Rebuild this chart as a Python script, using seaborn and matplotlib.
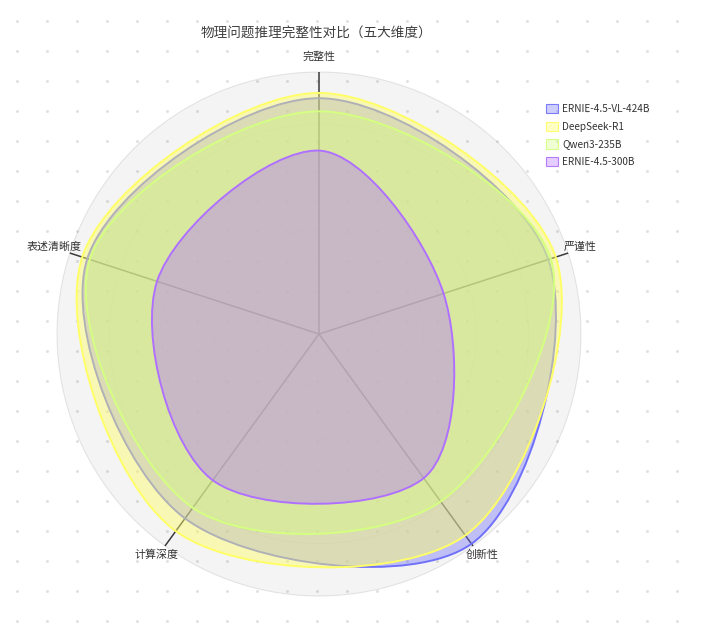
import numpy as np
import matplotlib
matplotlib.use('Agg')
import matplotlib.pyplot as plt
from matplotlib.path import Path
from matplotlib.patches import PathPatch, Circle, Patch
import seaborn as sns

# ---------------- data ----------------
title = '物理问题推理完整性对比（五大维度）'
dimensions = ['完整性', '严谨性', '创新性', '计算深度', '表述清晰度']
models = ['ERNIE-4.5-VL-424B', 'DeepSeek-R1', 'Qwen3-235B', 'ERNIE-4.5-300B']
ernie_vl_scores = [90, 92, 99, 87, 93]
deepseek_scores = [92, 95, 95, 93, 95]
qwen_scores = [85, 93, 79, 82, 92]
ernie_300b_scores = [70, 50, 68, 69, 65]
max_score = 100

series = [ernie_vl_scores, deepseek_scores, qwen_scores, ernie_300b_scores]
line_colors = ['#7070fa', '#ffff66', '#d4ff80', '#b070ff']
fill_alpha = [0.40, 0.45, 0.40, 0.40]
tension = 0.33

# ---------------- style ----------------
sns.set_theme(style='white')
plt.rcParams['font.family'] = ['Noto Sans CJK SC', 'DejaVu Sans']
palette = sns.color_palette(line_colors)

W, H, DPI = 701, 639, 100
CX, CY, R = 319, 334, 262  # pixel centre and radius


def px(x, y):
    return (x - CX) / R, (CY - y) / R


fig = plt.figure(figsize=(W / DPI, H / DPI), dpi=DPI)
ax = fig.add_axes([0, 0, 1, 1])
ax.set_xlim(-CX / R, (W - CX) / R)
ax.set_ylim(-(H - CY) / R, CY / R)
ax.axis('off')
fig.patch.set_facecolor('white')

# dotted page background
gx = np.arange(17, W, 30)
gy = np.arange(21, H, 30)
GX, GY = np.meshgrid(gx, gy)
dx, dy = px(GX.ravel(), GY.ravel())
ax.scatter(dx, dy, s=4.5, color='#e0e0e0', linewidths=0, zorder=0)

# radar background
ax.add_patch(Circle((0, 0), 1.0, facecolor=(0, 0, 0, 0.045), edgecolor='none', zorder=1))
for k in range(1, 6):
    ax.add_patch(Circle((0, 0), k / 5, facecolor='none',
                        edgecolor=(0, 0, 0, 0.05 if k < 5 else 0.09), lw=0.8, zorder=1.2))

n = len(dimensions)
angles = np.deg2rad(90 - 360 / n * np.arange(n))
dirs = np.column_stack([np.cos(angles), np.sin(angles)])

for d in dirs:
    ax.plot([0, d[0]], [0, d[1]], color='#3a3a3a', lw=1.1, zorder=1.5, solid_capstyle='butt')


def smooth_path(pts, t):
    m = len(pts)
    cin, cout = [], []
    for i in range(m):
        p, prv, nxt = pts[i], pts[i - 1], pts[(i + 1) % m]
        vec = nxt - prv
        d0 = np.linalg.norm(p - prv)
        d1 = np.linalg.norm(nxt - p)
        s = d0 + d1
        cin.append(p - vec * t * d0 / s)
        cout.append(p + vec * t * d1 / s)
    verts = [pts[0]]
    codes = [Path.MOVETO]
    for i in range(m):
        j = (i + 1) % m
        verts += [cout[i], cin[j], pts[j]]
        codes += [Path.CURVE4] * 3
    verts.append(pts[0])
    codes.append(Path.CLOSEPOLY)
    return Path(verts, codes)


for idx, (vals, col, a) in enumerate(zip(series, palette, fill_alpha)):
    r = np.asarray(vals, float) / max_score
    pts = dirs * r[:, None]
    path = smooth_path(pts, tension)
    ax.add_patch(PathPatch(path, facecolor=(*col, a), edgecolor='none', zorder=3 + idx * 2))
    ax.add_patch(PathPatch(path, facecolor='none', edgecolor=col, lw=1.4, zorder=3.5 + idx * 2))

# axis labels
label_pos = [(319, 57, 'center'), (564, 247, 'left'), (482, 555, 'center'),
             (156, 555, 'center'), (82, 247, 'right')]
for name, (lx, ly, ha) in zip(dimensions, label_pos):
    x, y = px(lx, ly)
    ax.text(x, y, name, ha=ha, va='center', fontsize=7.9, color='#333333', zorder=20)

# title
fig.text(316 / W, 1 - 33 / H, title, ha='center', va='center', fontsize=9.8, color='#404040')

# legend
handles = [Patch(facecolor=(*c, a * 0.85), edgecolor=(*c, 0.9), lw=0.8)
           for c, a in zip(palette, fill_alpha)]
leg = ax.legend(handles, models, loc='upper left',
                bbox_to_anchor=(546 / W, 1 - 104 / H), bbox_transform=fig.transFigure,
                frameon=False, fontsize=7.2, handlelength=1.2, handleheight=1.05,
                handletextpad=0.4, labelspacing=0.76, borderpad=0, borderaxespad=0)
for t in leg.get_texts():
    t.set_color('#333333')

fig.savefig('out.png', dpi=DPI)
